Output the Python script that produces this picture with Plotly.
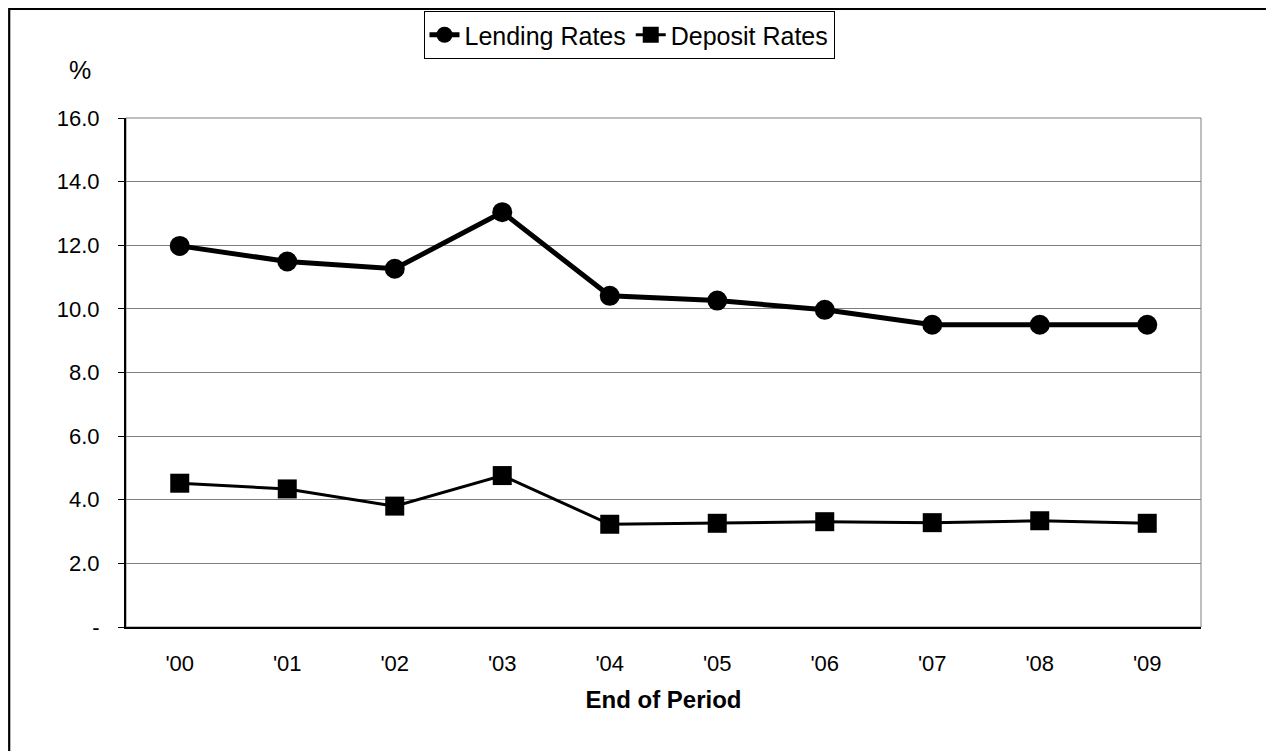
import plotly.graph_objects as go

periods = ["'00", "'01", "'02", "'03", "'04", "'05", "'06", "'07", "'08", "'09"]
lending_rates = [11.98, 11.49, 11.26, 13.04, 10.41, 10.26, 9.97, 9.50, 9.50, 9.50]
deposit_rates = [4.52, 4.34, 3.80, 4.76, 3.23, 3.26, 3.31, 3.28, 3.34, 3.26]
y_tick_vals = [0, 2, 4, 6, 8, 10, 12, 14, 16]
y_tick_text = ["-", "2.0", "4.0", "6.0", "8.0", "10.0", "12.0", "14.0", "16.0"]

W, H = 1274, 751
OFF = 8  # page body margin
L, T = 126 - OFF, 118 - OFF
R = W - (1201 - OFF)
B = H - (627 - OFF)
pw, ph = W - L - R, H - T - B

def px_x(p):
    return (p - OFF - L) / pw

def px_y(p):
    return (H - B - (p - OFF)) / ph

font = "Liberation Sans, Arial, sans-serif"

fig = go.Figure()
fig.add_trace(go.Scatter(
    x=periods, y=lending_rates, name="Lending Rates", mode="lines+markers",
    line=dict(color="black", width=5),
    marker=dict(symbol="circle", size=20, color="black"),
))
fig.add_trace(go.Scatter(
    x=periods, y=deposit_rates, name="Deposit Rates", mode="lines+markers",
    line=dict(color="black", width=3),
    marker=dict(symbol="square", size=19, color="black"),
))

fig.update_layout(
    width=W, height=H,
    margin=dict(l=L, r=R, t=T, b=B, autoexpand=False),
    paper_bgcolor="white", plot_bgcolor="white",
    font=dict(family=font, size=22, color="black"),
    showlegend=True,
    legend=dict(
        orientation="h", x=px_x(629), xanchor="center",
        y=px_y(11), yanchor="top",
        bordercolor="black", borderwidth=1, bgcolor="white",
        font=dict(family=font, size=25, color="black"),
        itemwidth=30, tracegroupgap=0,
    ),
    xaxis=dict(
        type="category", range=[-0.5, 9.5],
        showline=True, linecolor="black", linewidth=2,
        showgrid=False, ticks="", ticklen=0,
        ticklabelstandoff=16,
        tickfont=dict(family=font, size=22),
        title=dict(text="<b>End of Period</b>", font=dict(family=font, size=24), standoff=16),
        zeroline=False,
    ),
    yaxis=dict(
        range=[0, 16], tickvals=y_tick_vals, ticktext=y_tick_text,
        showline=True, linecolor="black", linewidth=2,
        showgrid=True, gridcolor="#7f7f7f", gridwidth=1,
        ticks="outside", ticklen=6, tickcolor="black",
        ticklabelstandoff=14,
        tickfont=dict(family=font, size=22),
        zeroline=False,
    ),
    shapes=[
        dict(type="rect", xref="paper", yref="paper", x0=0, x1=1, y0=0, y1=1,
             line=dict(color="#7f7f7f", width=1), layer="below"),
        dict(type="rect", xref="paper", yref="paper",
             x0=px_x(9.2), x1=px_x(1271.5), y0=px_y(770), y1=px_y(9),
             line=dict(color="black", width=2.2), layer="below"),
    ],
    annotations=[
        dict(text="%", xref="paper", yref="paper", x=px_x(80), y=px_y(70),
             xanchor="center", yanchor="middle", showarrow=False,
             font=dict(family=font, size=25, color="black")),
    ],
)

fig.write_html("out.html")
